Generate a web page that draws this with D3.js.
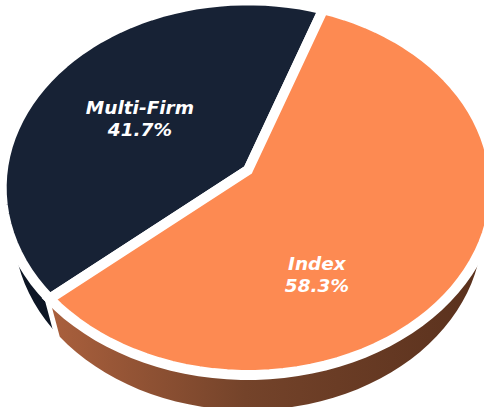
<!DOCTYPE html>
<html>
<head>
<meta charset="utf-8">
<script src="https://cdn.jsdelivr.net/npm/d3@7/dist/d3.min.js"></script>
<style>
  html, body { margin: 0; padding: 0; background: #ffffff; }
  svg { display: block; }
</style>
</head>
<body>
<div id="chart"></div>
<script>
// ---- data ----
const categories = ["Multi-Firm", "Index"];
const values = [41.7, 58.3];
const valueLabels = ["41.7%", "58.3%"];

// ---- styles ----
const faceColors = ["#172235", "#fd8a52"];
const wallColors = ["#0d1625", "url(#wallGrad)"];
// label placement inside each slice: fraction of slice span, radius (unit disk)
const labelPos = [{frac: 0.48, r: 0.53}, {frac: 0.64, r: 0.605}];

const W = 484, H = 407;
const cx = 248, cy = 170;       // projected pie centre
const f = 1697, D = 6.92;       // perspective focal length & camera distance
const sinP = 0.757, cosP = 0.653; // camera elevation
const depthH = 0.27;            // pie thickness (unit radius)
const botR = 0.98;              // bottom rim radius (slight bevel)
const gapW = 5;                 // white separation half-width

function proj(X, Y, Z) {
  const dep = D - Y * sinP - Z * cosP;
  return [cx + f * X / dep, cy - f * (Y * cosP - Z * sinP) / dep];
}

const svg = d3.select("#chart").append("svg")
  .attr("width", W).attr("height", H);

const defs = svg.append("defs");
const grad = defs.append("linearGradient").attr("id", "wallGrad")
  .attr("gradientUnits", "userSpaceOnUse")
  .attr("x1", 50).attr("y1", 0).attr("x2", 484).attr("y2", 0);
grad.append("stop").attr("offset", 0).attr("stop-color", "#aa603d");
grad.append("stop").attr("offset", 0.45).attr("stop-color", "#74432a");
grad.append("stop").attr("offset", 1).attr("stop-color", "#5a311d");

const start = 229.4 * Math.PI / 180;
const pie = d3.pie().sort(null).value(d => d)
  .startAngle(start).endAngle(start + 2 * Math.PI);
const arcs = pie(values);

const N = 120;
function slicePts(a) {
  const pts = [[0, 0]];
  const n = Math.max(4, Math.round(N * (a.endAngle - a.startAngle) / (2 * Math.PI)));
  for (let i = 0; i <= n; i++) {
    const t = a.startAngle + (a.endAngle - a.startAngle) * i / n - Math.PI / 2;
    pts.push([Math.cos(t), Math.sin(t)]);
  }
  return pts;
}

const line = d3.line();
function area(p) {
  let s = 0;
  for (let i = 0; i < p.length; i++) {
    const a = p[i], b = p[(i + 1) % p.length];
    s += a[0] * b[1] - b[0] * a[1];
  }
  return s / 2;
}
function poly(p) {
  const q = area(p) < 0 ? p.slice().reverse() : p;
  return line(q) + "Z";
}

const slices = arcs.map((a, i) => {
  const pts = slicePts(a);
  const top = pts.map(([x, z]) => proj(x, 0, z));
  const bot = pts.map(([x, z]) => proj(x * botR, -depthH, z * botR));
  let d = poly(top) + poly(bot);
  for (let k = 0; k < pts.length; k++) {
    const k2 = (k + 1) % pts.length;
    d += poly([top[k], top[k2], bot[k2], bot[k]]);
  }
  return {i, a, top, extr: d};
});

// walls (extrusions): white halo first, then fill
const walls = svg.append("g");
slices.forEach(s => {
  walls.append("path").attr("d", s.extr)
    .attr("fill", "#fff").attr("stroke", "#fff")
    .attr("stroke-width", gapW * 2).attr("stroke-linejoin", "round");
  walls.append("path").attr("d", s.extr)
    .attr("fill", wallColors[s.i]).attr("fill-rule", "nonzero");
});

// top faces
const faces = svg.append("g");
slices.forEach(s => {
  faces.append("path").attr("d", line(s.top) + "Z")
    .attr("fill", faceColors[s.i])
    .attr("stroke", "#fff").attr("stroke-width", gapW * 2)
    .attr("stroke-linejoin", "miter");
});

// labels
const labels = svg.append("g")
  .attr("font-family", "'DejaVu Sans', Verdana, sans-serif")
  .attr("font-weight", "bold").attr("font-style", "italic")
  .attr("font-size", 18.5).attr("fill", "#ffffff")
  .attr("text-anchor", "middle");
arcs.forEach((a, i) => {
  const lp = labelPos[i];
  const t = a.startAngle + (a.endAngle - a.startAngle) * lp.frac - Math.PI / 2;
  const [x, y] = proj(lp.r * Math.cos(t), 0, lp.r * Math.sin(t));
  const txt = labels.append("text").attr("x", x).attr("y", y);
  txt.append("tspan").attr("x", x).attr("dy", -6).text(categories[i]);
  txt.append("tspan").attr("x", x).attr("dy", 22).text(valueLabels[i]);
});
</script>
</body>
</html>
